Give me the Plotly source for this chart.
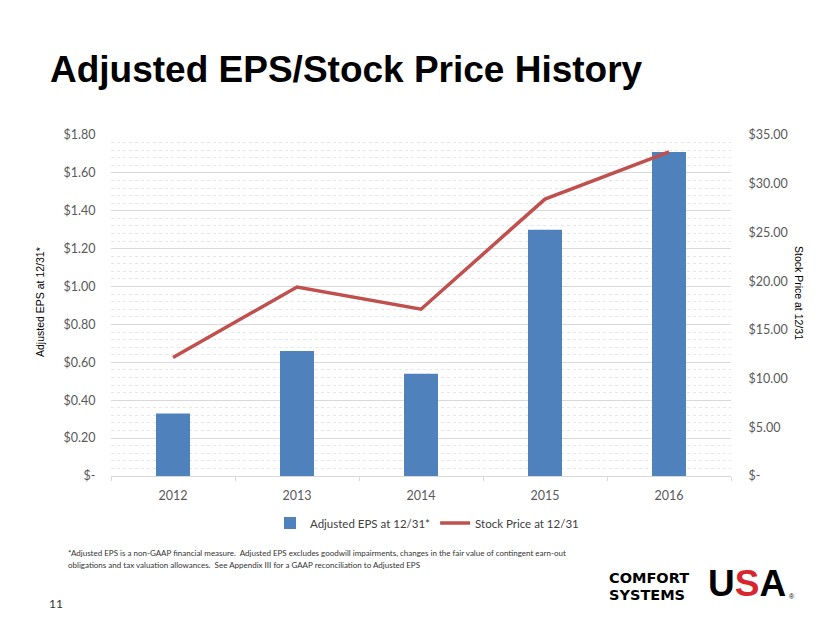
import plotly.graph_objects as go

# ---- data ----
years = ["2012", "2013", "2014", "2015", "2016"]
adjusted_eps = [0.33, 0.66, 0.54, 1.30, 1.71]
stock_price = [12.17, 19.39, 17.12, 28.42, 33.28]

eps_tickvals = [0, 0.2, 0.4, 0.6, 0.8, 1.0, 1.2, 1.4, 1.6, 1.8]
eps_ticktext = ["$-", "$0.20", "$0.40", "$0.60", "$0.80", "$1.00", "$1.20", "$1.40", "$1.60", "$1.80"]
price_tickvals = [0, 5, 10, 15, 20, 25, 30, 35]
price_ticktext = ["$-", "$5.00", "$10.00", "$15.00", "$20.00", "$25.00", "$30.00", "$35.00"]

title_text = "Adjusted EPS/Stock Price History"
footnote_1 = "*Adjusted EPS is a non-GAAP financial measure.  Adjusted EPS excludes goodwill impairments, changes in the fair value of contingent earn-out"
footnote_2 = "obligations and tax valuation allowances.  See Appendix III for a GAAP reconciliation to Adjusted EPS"

# page has an 8px body margin: figure coords = page coords - 8
OFF = 8
W, H = 814, 607
L, T = 111 - OFF, 135 - OFF
R = W - (731 - OFF)
B = H - (476 - OFF)
PW, PH = W - L - R, H - T - B


def px(x):
    return (x - OFF - L) / PW


def py(y):
    return (H - B - (y - OFF)) / PH


CAL = "Lato, 'Open Sans', sans-serif"
ARIAL = "'Liberation Sans', Arial, sans-serif"

fig = go.Figure()
fig.add_trace(go.Bar(
    x=years, y=adjusted_eps, name="Adjusted EPS at 12/31*",
    marker=dict(color="#4F81BD", line=dict(width=0)), yaxis="y",
))
fig.add_trace(go.Scatter(
    x=years, y=stock_price, name="Stock Price at 12/31", mode="lines",
    line=dict(color="#C0504D", width=3.5), yaxis="y2",
))

fig.update_layout(
    width=W, height=H,
    margin=dict(l=L, r=R, t=T, b=B, pad=0),
    paper_bgcolor="white", plot_bgcolor="white",
    bargap=0.726,
    showlegend=True,
    legend=dict(orientation="h", x=px(427), xanchor="center", y=py(523), yanchor="middle",
                font=dict(family=CAL, size=11.5, color="#404040"),
                bgcolor="rgba(0,0,0,0)", itemwidth=30, tracegroupgap=0),
    title=dict(text="<b>" + title_text + "</b>", x=(50 - OFF) / W, xanchor="left", xref="container",
               y=1 - (69 - OFF) / H, yanchor="middle", yref="container",
               font=dict(family=ARIAL, size=37, color="black")),
    xaxis=dict(
        showline=True, linecolor="#d9d9d9", linewidth=1,
        ticks="outside", tickson="boundaries", ticklen=4, tickcolor="#d9d9d9",
        ticklabelstandoff=8,
        tickfont=dict(family=CAL, size=12.5, color="#595959"),
        showgrid=False,
    ),
    yaxis=dict(
        range=[0, 1.8], tickvals=eps_tickvals, ticktext=eps_ticktext,
        tickfont=dict(family=CAL, size=12.5, color="#595959"),
        ticks="outside", ticklen=12, tickcolor="rgba(0,0,0,0)",
        showgrid=True, gridcolor="#d9d9d9", gridwidth=1, zeroline=False,
        minor=dict(dtick=0.04, showgrid=True, gridcolor="#e6e6e6", griddash="dot", gridwidth=1),
    ),
    yaxis2=dict(
        range=[0, 35], tickvals=price_tickvals, ticktext=price_ticktext,
        overlaying="y", side="right",
        tickfont=dict(family=CAL, size=12.5, color="#595959"),
        ticks="outside", ticklen=14, tickcolor="rgba(0,0,0,0)",
        showgrid=False, zeroline=False,
    ),
)

annotations = [
    dict(text="Adjusted EPS at 12/31*", x=px(40), y=py(302), textangle=-90,
         font=dict(family=ARIAL, size=10.5, color="black")),
    dict(text="Stock Price at 12/31", x=px(799), y=py(293), textangle=90,
         font=dict(family=ARIAL, size=10.5, color="black")),
    dict(text=footnote_1, x=px(66), y=py(553), xanchor="left",
         font=dict(family=CAL, size=8, color="#333333")),
    dict(text=footnote_2, x=px(66), y=py(565), xanchor="left",
         font=dict(family=CAL, size=8, color="#333333")),
    dict(text="11", x=px(47), y=py(603), xanchor="left",
         font=dict(family=CAL, size=12, color="#333333")),
    dict(text="<b>COMFORT</b>", x=px(607), y=py(577.5), xanchor="left",
         font=dict(family="'DejaVu Sans', sans-serif", size=14.5, color="black")),
    dict(text="<b>SYSTEMS</b>", x=px(607), y=py(595), xanchor="left",
         font=dict(family="'DejaVu Sans', sans-serif", size=14.5, color="black")),
    dict(text="<b>U<span style='color:#D7262D'>S</span>A</b>", x=px(706), y=py(583), xanchor="left",
         font=dict(family=ARIAL, size=37, color="black")),
    dict(text="®", x=px(787), y=py(596), xanchor="left",
         font=dict(family=ARIAL, size=7, color="black")),
]
for a in annotations:
    a.update(xref="paper", yref="paper", showarrow=False, yanchor="middle")
    a.setdefault("xanchor", "center")
fig.update_layout(annotations=annotations)

fig.write_html("out.html")
